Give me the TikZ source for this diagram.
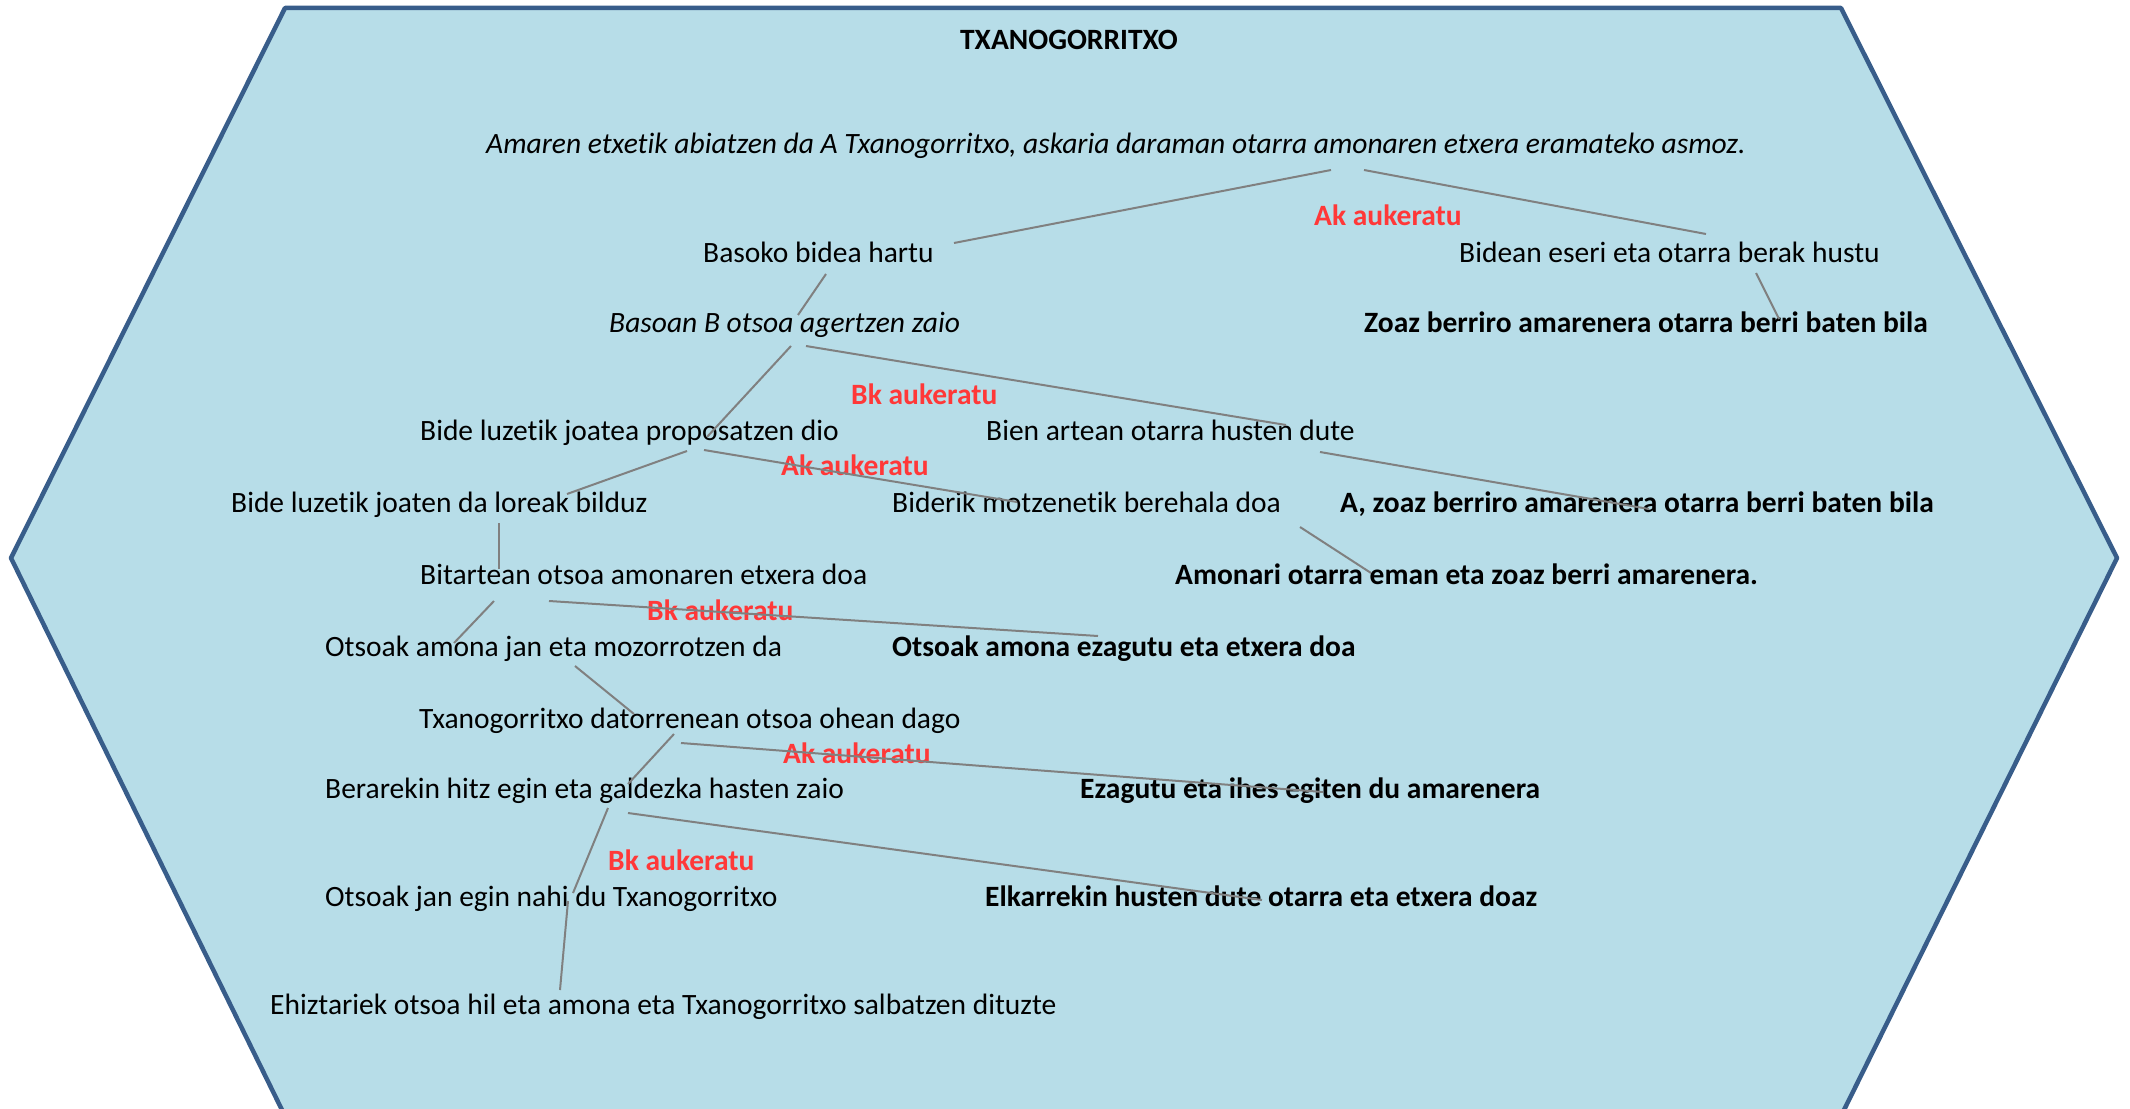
\documentclass[tikz,border=0pt]{standalone}
\usepackage{fontspec}
\setmainfont{Carlito}[Ligatures=NoCommon]
\usetikzlibrary{calc}
\definecolor{hexfill}{RGB}{183,221,232}
\definecolor{hexline}{RGB}{56,93,138}
\definecolor{linkgray}{RGB}{128,128,128}
\definecolor{choicered}{RGB}{255,56,56}
\tikzset{
  txt/.style={anchor=base west, inner sep=0pt, font=\fontsize{29.5}{35}\selectfont},
  itxt/.style={txt, font=\fontsize{29.5}{35}\selectfont\itshape},
  btxt/.style={txt, font=\fontsize{29.5}{35}\selectfont\bfseries},
  choice/.style={txt, font=\fontsize{29.5}{35}\selectfont\bfseries, text=choicered},
  link/.style={draw=linkgray, line width=2pt}
}
\begin{document}
\begin{tikzpicture}[x=1pt,y=-1pt]
\useasboundingbox (0,0) rectangle (2130,1108);
\clip (0,0) rectangle (2130,1108);
\draw[fill=hexfill, draw=hexline, line width=4.5pt, line join=round]
  (285,8) -- (1841,8) -- (2117,558) -- (1842,1114) -- (284,1114) -- (11,558) -- cycle;

% texts
\node[btxt, anchor=base] (title) at (1069,50) {TXANOGORRITXO};
\node[itxt] (amaren) at (486,153) {Amaren etxetik abiatzen da A Txanogorritxo, askaria daraman otarra amonaren etxera eramateko asmoz.};
\node[choice] (c1) at (1314,225) {Ak aukeratu};
\node[txt] (basoko) at (703,262) {Basoko bidea hartu};
\node[txt] (bidean) at (1459,262) {Bidean eseri eta otarra berak hustu};
\node[itxt] (basoan) at (609,332) {Basoan B otsoa agertzen zaio};
\node[btxt] (zoaz) at (1364,332) {Zoaz berriro amarenera otarra berri baten bila};
\node[choice] (c2) at (851,404) {Bk aukeratu};
\node[txt] (joatea) at (420,440) {Bide luzetik joatea proposatzen dio};
\node[txt] (bien) at (986,440) {Bien artean otarra husten dute};
\node[choice] (c3) at (781,475) {Ak aukeratu};
\node[txt] (joaten) at (231,512) {Bide luzetik joaten da loreak bilduz};
\node[txt] (biderik) at (892,512) {Biderik motzenetik berehala doa};
\node[btxt] (azoaz) at (1340,512) {A, zoaz berriro amarenera otarra berri baten bila};
\node[txt] (bitartean) at (420,584) {Bitartean otsoa amonaren etxera doa};
\node[btxt] (amonari) at (1175,584) {Amonari otarra eman eta zoaz berri amarenera.};
\node[choice] (c4) at (647,620) {Bk aukeratu};
\node[txt] (mozorro) at (325,656) {Otsoak amona jan eta mozorrotzen da};
\node[btxt] (ezagutuetxe) at (892,656) {Otsoak amona ezagutu eta etxera doa};
\node[txt] (datorren) at (419,728) {Txanogorritxo datorrenean otsoa ohean dago};
\node[choice] (c5) at (783,763) {Ak aukeratu};
\node[txt] (berarekin) at (325,798) {Berarekin hitz egin eta galdezka hasten zaio};
\node[btxt] (ihes) at (1080,798) {Ezagutu eta ihes egiten du amarenera};
\node[choice] (c6) at (608,870) {Bk aukeratu};
\node[txt] (janahi) at (325,906) {Otsoak jan egin nahi du Txanogorritxo};
\node[btxt] (elkarrekin) at (985,906) {Elkarrekin husten dute otarra eta etxera doaz};
\node[txt] (ehiztariek) at (270,1014) {Ehiztariek otsoa hil eta amona eta Txanogorritxo salbatzen dituzte};

% connector end points
\coordinate (a1) at (1331,170); \coordinate (a2) at (954,243);
\coordinate (b1) at (1364,170); \coordinate (b2) at (1706,234);
\coordinate (d1) at (1756,273); \coordinate (d2) at (1779,319);
\coordinate (e1) at (826,274);  \coordinate (e2) at (798,315);
\coordinate (f1) at (791,346);  \coordinate (f2) at (707,437);
\coordinate (g1) at (806,346);  \coordinate (g2) at (1286,425);
\coordinate (h1) at (687,451);  \coordinate (h2) at (567,494);
\coordinate (i1) at (704,450);  \coordinate (i2) at (1017,502);
\coordinate (j1) at (1320,452); \coordinate (j2) at (1649,509);
\coordinate (k1) at (1300,527); \coordinate (k2) at (1371,573);
\coordinate (l1) at (499,523);  \coordinate (l2) at (499,569);
\coordinate (m1) at (494,601);  \coordinate (m2) at (454,643);
\coordinate (n1) at (549,601);  \coordinate (n2) at (1098,636);
\coordinate (o1) at (575,666);  \coordinate (o2) at (634,714);
\coordinate (p1) at (674,734);  \coordinate (p2) at (628,784);
\coordinate (q1) at (681,743);  \coordinate (q2) at (1323,792);
\coordinate (r1) at (608,808);  \coordinate (r2) at (573,893);
\coordinate (s1) at (568,901);  \coordinate (s2) at (560,990);
\coordinate (t1) at (628,813);  \coordinate (t2) at (1262,900);

\foreach \u in {a,b,d,e,f,g,h,i,j,k,l,m,n,o,p,q,r,s,t}
  \draw[link] (\u1) -- (\u2);
\end{tikzpicture}
\end{document}
